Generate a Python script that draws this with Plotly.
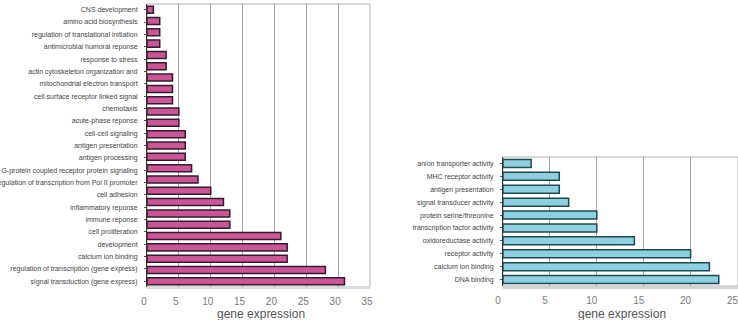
import plotly.graph_objects as go

W, H = 738, 320

left_labels = [
    "CNS development",
    "amino acid biosynthesis",
    "regulation of translational initiation",
    "antimicrobial humoral reponse",
    "response to stress",
    "actin cytoskeleton organization and",
    "mitochondrial electron transport",
    "cell surface receptor linked signal",
    "chemotaxis",
    "acute-phase reponse",
    "cell-cell signaling",
    "antigen presentation",
    "antigen processing",
    "G-protein coupled receptor protein signaling",
    "regulation of transcription from Pol II promoter",
    "cell adhesion",
    "inflammatory reponse",
    "immune reponse",
    "cell proliferation",
    "development",
    "calcium ion binding",
    "regulation of transcription (gene express)",
    "signal transduction (gene express)",
]
left_values = [1, 2, 2, 2, 3, 3, 4, 4, 4, 5, 5, 6, 6, 6, 7, 8, 10, 12, 13, 13, 21, 22, 22, 28, 31]

right_labels = [
    "anion transporter activity",
    "MHC receptor activity",
    "antigen presentation",
    "signal transducer activity",
    "protein serine/threonine",
    "transcription factor activity",
    "oxidoreductase activity",
    "receptor activity",
    "calcium ion binding",
    "DNA binding",
]
right_values = [3, 6, 6, 7, 10, 10, 14, 20, 22, 23]

left_ticks = [0, 5, 10, 15, 20, 25, 30, 35]
right_ticks = [0, 5, 10, 15, 20, 25]
axis_title = "gene expression"


def px(x):
    return x / W


def py(y):
    return 1 - y / H


FONT = "Liberation Sans, Arial, sans-serif"
nL = len(left_values)
nLab = len(left_labels)
nR = len(right_values)

fig = go.Figure()
fig.add_trace(go.Bar(
    x=left_values, y=list(range(nL)), orientation="h",
    marker=dict(color="#c75894", line=dict(color="#3a1830", width=1.5)),
    width=0.62, xaxis="x", yaxis="y", showlegend=False, hoverinfo="x",
))
fig.add_trace(go.Bar(
    x=right_values, y=list(range(nR)), orientation="h",
    marker=dict(color="#8ed0e0", line=dict(color="#1d4a52", width=1.5)),
    width=0.62, xaxis="x2", yaxis="y2", showlegend=False, hoverinfo="x",
))

xcommon = dict(showgrid=True, gridcolor="#a8a8a8", gridwidth=1, zeroline=False,
               ticks="", tickfont=dict(family=FONT, size=10, color="#7a7a7a"),
               ticklabelstandoff=7, showline=False, fixedrange=True, automargin=False,
               ticklabeloverflow="allow")
ycommon = dict(showgrid=False, zeroline=False, showline=True, linecolor="#333333",
               linewidth=1, ticks="outside", ticklen=2, tickcolor="#555",
               tickfont=dict(family=FONT, size=7, color="#444444"),
               ticklabelstandoff=5, fixedrange=True, automargin=False)

fig.update_layout(
    width=W, height=H,
    margin=dict(l=0, r=0, t=0, b=0, autoexpand=False),
    paper_bgcolor="white", plot_bgcolor="white",
    barmode="overlay",
    font=dict(family=FONT),
    xaxis=dict(domain=[px(147), px(370)], range=[0, 35], tickvals=left_ticks,
               anchor="y", ticklabelshift=-3, **xcommon),
    yaxis=dict(domain=[py(287), py(4)], range=[nL - 0.5, -0.5],
               tickvals=[i * (nL - 1) / (nLab - 1) for i in range(nLab)],
               ticktext=left_labels, anchor="x", **ycommon),
    xaxis2=dict(domain=[px(503), px(738)], range=[0, 25.05], tickvals=right_ticks,
                anchor="y2", ticklabelshift=-5, **xcommon),
    yaxis2=dict(domain=[py(286), py(157)], range=[nR - 0.5, -0.5],
                tickvals=list(range(nR)), ticktext=right_labels, anchor="x2", **ycommon),
    annotations=[
        dict(text=axis_title, x=px(261), y=py(313.5), xref="paper", yref="paper",
             xanchor="center", yanchor="middle", showarrow=False,
             font=dict(family=FONT, size=12, color="#555555")),
        dict(text=axis_title, x=px(622), y=py(313.5), xref="paper", yref="paper",
             xanchor="center", yanchor="middle", showarrow=False,
             font=dict(family=FONT, size=12, color="#555555")),
    ],
    shapes=[
        dict(type="rect", xref="x domain", yref="y domain", x0=0, x1=1, y0=0, y1=1,
             line=dict(color="#b0b0b0", width=1), layer="below"),
        dict(type="rect", xref="x2 domain", yref="y2 domain", x0=0, x1=1, y0=0, y1=1,
             line=dict(color="#b0b0b0", width=1), layer="below"),
        dict(type="rect", xref="x2 domain", yref="paper", x0=0, x1=1,
             y0=py(289), y1=py(286), fillcolor="#d4d4d4", line=dict(width=0), layer="below"),
        dict(type="rect", xref="x domain", yref="paper", x0=0, x1=1,
             y0=py(289), y1=py(287), fillcolor="#dcdcdc", line=dict(width=0), layer="below"),
    ],
)

fig.write_html("out.html")
